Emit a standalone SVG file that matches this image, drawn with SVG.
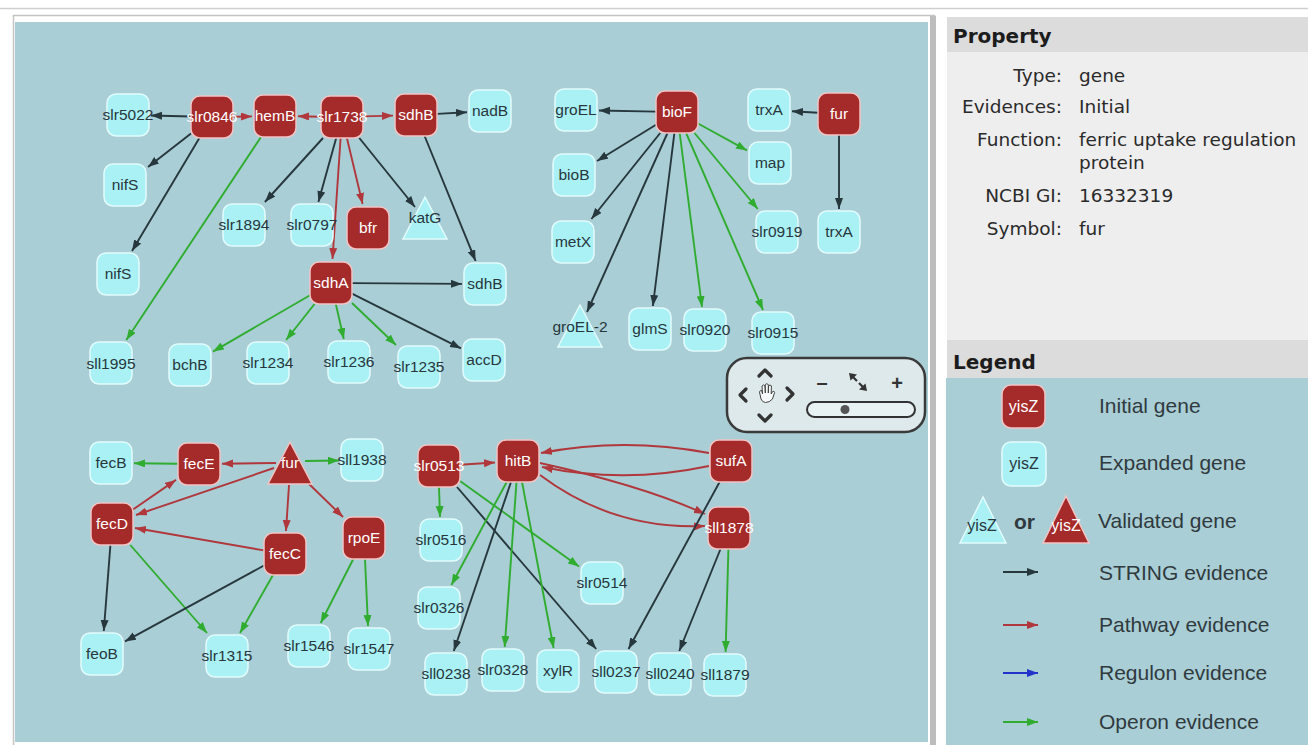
<svg xmlns="http://www.w3.org/2000/svg" width="1308" height="745" viewBox="0 0 1308 745">
<style>
.lbl{font-family:"Liberation Sans",Arial,sans-serif;font-size:15.5px;text-anchor:middle}
.init rect,.init polygon{fill:#a52a2a;stroke:#f2c4c4;stroke-width:1.5}
.exp rect,.exp polygon{fill:#aaf1f5;stroke:#e2fcfd;stroke-width:1.5}
.init text{fill:#ffffff}
.exp text{fill:#27373d}
.e{fill:none;stroke-width:1.9}
.s{stroke:#27373e}
.p{stroke:#b0383c}
.o{stroke:#30ad30}
.r{stroke:#2233cc}
.prop{font-family:"DejaVu Sans",Verdana,sans-serif;font-size:18.5px;fill:#2a2a2a}
.hdr{font-family:"DejaVu Sans",Verdana,sans-serif;font-size:20px;font-weight:bold;fill:#1c1c1c}
.leg{font-family:"Liberation Sans",Arial,sans-serif;font-size:21px;fill:#303a3e}
.nav{fill:none;stroke:#333;stroke-width:3.2;stroke-linecap:round;stroke-linejoin:round}
</style>
<defs>
<marker id="aS" markerUnits="userSpaceOnUse" markerWidth="12" markerHeight="9" refX="11" refY="4" orient="auto"><path d="M0,0 L11,4 L0,8 z" fill="#27373e"/></marker>
<marker id="aP" markerUnits="userSpaceOnUse" markerWidth="12" markerHeight="9" refX="11" refY="4" orient="auto"><path d="M0,0 L11,4 L0,8 z" fill="#b0383c"/></marker>
<marker id="aO" markerUnits="userSpaceOnUse" markerWidth="12" markerHeight="9" refX="11" refY="4" orient="auto"><path d="M0,0 L11,4 L0,8 z" fill="#30ad30"/></marker>
<marker id="aR" markerUnits="userSpaceOnUse" markerWidth="12" markerHeight="9" refX="11" refY="4" orient="auto"><path d="M0,0 L11,4 L0,8 z" fill="#2233cc"/></marker>
</defs>

<rect x="0" y="0" width="1308" height="745" fill="#ffffff"/>
<line x1="0" y1="8.5" x2="1308" y2="8.5" stroke="#cfcfcf" stroke-width="1.5"/>
<!-- main panel frame -->
<rect x="13.5" y="15.5" width="921" height="740" fill="#ffffff" stroke="#c4c4c4" stroke-width="1.5"/>
<rect x="15" y="22" width="913" height="720" fill="#a9ced5"/>
<rect x="930" y="16" width="6" height="729" fill="#bdbdbd"/>

<!-- property panel -->
<rect x="947" y="17" width="361" height="35" fill="#dcdcdc"/>
<rect x="947" y="52" width="361" height="288" fill="#eeeeee"/>
<text class="hdr" x="953" y="43">Property</text>
<text class="prop" x="1062" y="82" text-anchor="end">Type:</text>
<text class="prop" x="1079" y="82">gene</text>
<text class="prop" x="1062" y="113" text-anchor="end">Evidences:</text>
<text class="prop" x="1079" y="113">Initial</text>
<text class="prop" x="1062" y="146" text-anchor="end">Function:</text>
<text class="prop" x="1079" y="146">ferric uptake regulation</text>
<text class="prop" x="1079" y="169">protein</text>
<text class="prop" x="1062" y="202" text-anchor="end">NCBI GI:</text>
<text class="prop" x="1079" y="202">16332319</text>
<text class="prop" x="1062" y="235" text-anchor="end">Symbol:</text>
<text class="prop" x="1079" y="235">fur</text>

<!-- legend -->
<rect x="947" y="340" width="361" height="38" fill="#dcdcdc"/>
<text class="hdr" x="953" y="369">Legend</text>
<rect x="946" y="378" width="362" height="367" fill="#a9ced5"/>
<g id="legend-initial" class="init"><rect x="1002" y="385" width="43" height="43" rx="9"/><text class="lbl" x="1023.5" y="412" style="font-size:16px">yisZ</text></g>
<text class="leg" x="1099" y="413">Initial gene</text>
<g id="legend-expanded" class="exp"><rect x="1002" y="442" width="44" height="44" rx="9"/><text class="lbl" x="1024" y="469" style="font-size:16px">yisZ</text></g>
<text class="leg" x="1099" y="470">Expanded gene</text>
<g id="legend-validated-exp" class="exp"><polygon points="983,497 960,543 1006,543"/><text class="lbl" x="982" y="531" style="font-size:16px">yisZ</text></g>
<text class="leg" x="1014" y="529" style="font-weight:bold">or</text>
<g id="legend-validated-init" class="init"><polygon points="1066,496 1043,543 1089,543"/><text class="lbl" x="1066" y="531" style="font-size:16px">yisZ</text></g>
<text class="leg" x="1098" y="528">Validated gene</text>
<line class="e s" x1="1003" y1="572" x2="1038" y2="572" marker-end="url(#aS)"/>
<text class="leg" x="1099" y="580">STRING evidence</text>
<line class="e p" x1="1003" y1="625" x2="1038" y2="625" marker-end="url(#aP)"/>
<text class="leg" x="1099" y="632">Pathway evidence</text>
<line class="e r" x1="1003" y1="673" x2="1038" y2="673" marker-end="url(#aR)"/>
<text class="leg" x="1099" y="680">Regulon evidence</text>
<line class="e o" x1="1003" y1="722" x2="1038" y2="722" marker-end="url(#aO)"/>
<text class="leg" x="1099" y="729">Operon evidence</text>

<!-- connectors -->
<g id="connectors">
<line class="e s" x1="191" y1="116.5" x2="151" y2="115.5" marker-end="url(#aS)"/>
<line class="e p" x1="233" y1="116.7" x2="252" y2="116.4" marker-end="url(#aP)"/>
<line class="e p" x1="321" y1="116.7" x2="298" y2="116.3" marker-end="url(#aP)"/>
<line class="e p" x1="363" y1="116.4" x2="393" y2="115.6" marker-end="url(#aP)"/>
<line class="e s" x1="437" y1="113.9" x2="467" y2="112.2" marker-end="url(#aS)"/>
<line class="e s" x1="191" y1="133.4" x2="148" y2="167" marker-end="url(#aS)"/>
<line class="e s" x1="199.4" y1="138" x2="132" y2="251" marker-end="url(#aS)"/>
<line class="e o" x1="261" y1="137" x2="126.3" y2="340" marker-end="url(#aO)"/>
<line class="e s" x1="323" y1="138" x2="264.9" y2="202" marker-end="url(#aS)"/>
<line class="e s" x1="336.2" y1="138" x2="318.4" y2="202" marker-end="url(#aS)"/>
<line class="e p" x1="340.6" y1="138" x2="332.5" y2="259" marker-end="url(#aP)"/>
<line class="e p" x1="346.9" y1="138" x2="362.6" y2="204" marker-end="url(#aP)"/>
<line class="e s" x1="359.3" y1="138" x2="415" y2="207" marker-end="url(#aS)"/>
<line class="e s" x1="424.6" y1="136" x2="475.6" y2="261" marker-end="url(#aS)"/>
<line class="e s" x1="352" y1="283.1" x2="462" y2="283.9" marker-end="url(#aS)"/>
<line class="e o" x1="310" y1="295.2" x2="213" y2="351.6" marker-end="url(#aO)"/>
<line class="e o" x1="314.5" y1="304" x2="286.1" y2="340" marker-end="url(#aO)"/>
<line class="e o" x1="335.8" y1="304" x2="343.8" y2="339" marker-end="url(#aO)"/>
<line class="e o" x1="352" y1="303" x2="396" y2="345" marker-end="url(#aO)"/>
<line class="e s" x1="352" y1="293.6" x2="461" y2="348.4" marker-end="url(#aS)"/>

<line class="e s" x1="656" y1="111.6" x2="599" y2="110.5" marker-end="url(#aS)"/>
<line class="e s" x1="656" y1="124.8" x2="597" y2="161" marker-end="url(#aS)"/>
<line class="e s" x1="660.2" y1="133" x2="591.4" y2="219" marker-end="url(#aS)"/>
<line class="e s" x1="667.5" y1="133" x2="587" y2="312" marker-end="url(#aS)"/>
<line class="e s" x1="674.4" y1="133" x2="652.9" y2="306" marker-end="url(#aS)"/>
<line class="e o" x1="679.7" y1="133" x2="702" y2="307" marker-end="url(#aO)"/>
<line class="e o" x1="686.1" y1="133" x2="763" y2="310" marker-end="url(#aO)"/>
<line class="e o" x1="694.5" y1="133" x2="757.8" y2="209" marker-end="url(#aO)"/>
<line class="e o" x1="698" y1="123.5" x2="747" y2="150.4" marker-end="url(#aO)"/>
<line class="e s" x1="818" y1="112.8" x2="792" y2="111.3" marker-end="url(#aS)"/>
<line class="e s" x1="839" y1="135" x2="839" y2="209" marker-end="url(#aS)"/>

<line class="e o" x1="178" y1="463.8" x2="134" y2="463.3" marker-end="url(#aO)"/>
<line class="e p" x1="276" y1="463" x2="222" y2="463.7" marker-end="url(#aP)"/>
<line class="e o" x1="305" y1="461" x2="339" y2="460.5" marker-end="url(#aO)"/>
<line class="e p" x1="133" y1="509.5" x2="176" y2="479.9" marker-end="url(#aP)"/>
<line class="e p" x1="274" y1="468" x2="136" y2="515" marker-end="url(#aP)"/>
<line class="e p" x1="289" y1="485" x2="286" y2="531" marker-end="url(#aP)"/>
<line class="e p" x1="307" y1="482" x2="343" y2="517" marker-end="url(#aP)"/>
<line class="e p" x1="264" y1="550.4" x2="135" y2="528" marker-end="url(#aP)"/>
<line class="e s" x1="110.4" y1="545" x2="103.8" y2="631" marker-end="url(#aS)"/>
<line class="e o" x1="130.3" y1="545" x2="207" y2="633" marker-end="url(#aO)"/>
<line class="e s" x1="264" y1="565.5" x2="125" y2="641.4" marker-end="url(#aS)"/>
<line class="e o" x1="273" y1="575" x2="240" y2="633" marker-end="url(#aO)"/>
<line class="e o" x1="353.3" y1="559" x2="320.7" y2="623" marker-end="url(#aO)"/>
<line class="e o" x1="365" y1="559" x2="368" y2="626" marker-end="url(#aO)"/>

<line class="e p" x1="460" y1="464.7" x2="495" y2="462.5" marker-end="url(#aP)"/>
<path class="e p" d="M709,453 Q624,437 541,453" marker-end="url(#aP)"/>
<path class="e p" d="M709,466 Q625,484 542,467" marker-end="url(#aP)"/>
<path class="e p" d="M540,463 Q644,486 705,514" marker-end="url(#aP)"/>
<path class="e p" d="M540,475 Q613,530 705,526" marker-end="url(#aP)"/>
<line class="e o" x1="439" y1="487" x2="440" y2="517" marker-end="url(#aO)"/>
<line class="e o" x1="460" y1="481" x2="579" y2="566.5" marker-end="url(#aO)"/>
<line class="e s" x1="457" y1="487" x2="596.2" y2="649" marker-end="url(#aS)"/>
<line class="e o" x1="506.7" y1="482" x2="451.4" y2="585" marker-end="url(#aO)"/>
<line class="e s" x1="511" y1="482" x2="453.8" y2="651" marker-end="url(#aS)"/>
<line class="e o" x1="516.5" y1="482" x2="504.7" y2="647" marker-end="url(#aO)"/>
<line class="e o" x1="522" y1="482" x2="553.6" y2="648" marker-end="url(#aO)"/>
<line class="e s" x1="719.6" y1="482" x2="628.5" y2="649" marker-end="url(#aS)"/>
<line class="e s" x1="720.5" y1="549" x2="679.3" y2="651" marker-end="url(#aS)"/>
<line class="e o" x1="728.4" y1="549" x2="725.6" y2="652" marker-end="url(#aO)"/>
</g>

<!-- nodes -->
<g id="n-slr5022" class="exp"><rect x="107" y="94" width="42" height="42" rx="9"/><text class="lbl" x="128" y="120">slr5022</text></g>
<g id="n-slr0846" class="init"><rect x="191" y="96" width="42" height="42" rx="9"/><text class="lbl" x="212" y="122">slr0846</text></g>
<g id="n-hemB" class="init"><rect x="254" y="95" width="42" height="42" rx="9"/><text class="lbl" x="275" y="121">hemB</text></g>
<g id="n-slr1738" class="init"><rect x="321" y="96" width="42" height="42" rx="9"/><text class="lbl" x="342" y="122">slr1738</text></g>
<g id="n-sdhB" class="init"><rect x="395" y="94" width="42" height="42" rx="9"/><text class="lbl" x="416" y="120">sdhB</text></g>
<g id="n-nadB" class="exp"><rect x="469" y="90" width="42" height="42" rx="9"/><text class="lbl" x="490" y="116">nadB</text></g>
<g id="n-nifS-1" class="exp"><rect x="104" y="164" width="42" height="42" rx="9"/><text class="lbl" x="125" y="190">nifS</text></g>
<g id="n-nifS-2" class="exp"><rect x="97" y="253" width="42" height="42" rx="9"/><text class="lbl" x="118" y="279">nifS</text></g>
<g id="n-slr1894" class="exp"><rect x="223" y="204" width="42" height="42" rx="9"/><text class="lbl" x="244" y="230">slr1894</text></g>
<g id="n-slr0797" class="exp"><rect x="291" y="204" width="42" height="42" rx="9"/><text class="lbl" x="312" y="230">slr0797</text></g>
<g id="n-bfr" class="init"><rect x="347" y="207" width="42" height="42" rx="9"/><text class="lbl" x="368" y="233">bfr</text></g>
<g id="n-katG" class="exp"><polygon points="425,197 403,239 447,239"/><text class="lbl" x="425" y="223">katG</text></g>
<g id="n-sdhB-2" class="exp"><rect x="464" y="263" width="42" height="42" rx="9"/><text class="lbl" x="485" y="289">sdhB</text></g>
<g id="n-sdhA" class="init"><rect x="310" y="262" width="42" height="42" rx="9"/><text class="lbl" x="331" y="288">sdhA</text></g>
<g id="n-sll1995" class="exp"><rect x="90" y="342" width="42" height="42" rx="9"/><text class="lbl" x="111" y="369">sll1995</text></g>
<g id="n-bchB" class="exp"><rect x="169" y="344" width="42" height="42" rx="9"/><text class="lbl" x="190" y="370">bchB</text></g>
<g id="n-slr1234" class="exp"><rect x="247" y="342" width="42" height="42" rx="9"/><text class="lbl" x="268" y="368">slr1234</text></g>
<g id="n-slr1236" class="exp"><rect x="328" y="341" width="42" height="42" rx="9"/><text class="lbl" x="349" y="367">slr1236</text></g>
<g id="n-slr1235" class="exp"><rect x="398" y="346" width="42" height="42" rx="9"/><text class="lbl" x="419" y="372">slr1235</text></g>
<g id="n-accD" class="exp"><rect x="463" y="339" width="42" height="42" rx="9"/><text class="lbl" x="484" y="365">accD</text></g>

<g id="n-groEL" class="exp"><rect x="555" y="89" width="42" height="42" rx="9"/><text class="lbl" x="576" y="115">groEL</text></g>
<g id="n-bioF" class="init"><rect x="656" y="91" width="42" height="42" rx="9"/><text class="lbl" x="677" y="117">bioF</text></g>
<g id="n-trxA-1" class="exp"><rect x="748" y="89" width="42" height="42" rx="9"/><text class="lbl" x="769" y="115">trxA</text></g>
<g id="n-fur-1" class="init"><rect x="818" y="93" width="42" height="42" rx="9"/><text class="lbl" x="839" y="119">fur</text></g>
<g id="n-map" class="exp"><rect x="749" y="142" width="42" height="42" rx="9"/><text class="lbl" x="770" y="168">map</text></g>
<g id="n-bioB" class="exp"><rect x="553" y="154" width="42" height="42" rx="9"/><text class="lbl" x="574" y="180">bioB</text></g>
<g id="n-metX" class="exp"><rect x="552" y="221" width="42" height="42" rx="9"/><text class="lbl" x="573" y="247">metX</text></g>
<g id="n-slr0919" class="exp"><rect x="756" y="211" width="42" height="42" rx="9"/><text class="lbl" x="777" y="237">slr0919</text></g>
<g id="n-trxA-2" class="exp"><rect x="818" y="211" width="42" height="42" rx="9"/><text class="lbl" x="839" y="237">trxA</text></g>
<g id="n-groEL-2" class="exp"><polygon points="580,305 558,347 602,347"/><text class="lbl" x="580" y="332">groEL-2</text></g>
<g id="n-glmS" class="exp"><rect x="629" y="308" width="42" height="42" rx="9"/><text class="lbl" x="650" y="334">glmS</text></g>
<g id="n-slr0920" class="exp"><rect x="684" y="309" width="42" height="42" rx="9"/><text class="lbl" x="705" y="335">slr0920</text></g>
<g id="n-slr0915" class="exp"><rect x="752" y="312" width="42" height="42" rx="9"/><text class="lbl" x="773" y="338">slr0915</text></g>

<g id="n-fecB" class="exp"><rect x="90" y="442" width="42" height="42" rx="9"/><text class="lbl" x="111" y="468">fecB</text></g>
<g id="n-fecE" class="init"><rect x="178" y="443" width="42" height="42" rx="9"/><text class="lbl" x="199" y="469">fecE</text></g>
<g id="n-fur-2" class="init"><polygon points="290,442 268,484 312,484"/><text class="lbl" x="290" y="468">fur</text></g>
<g id="n-sll1938" class="exp"><rect x="341" y="439" width="42" height="42" rx="9"/><text class="lbl" x="362" y="465">sll1938</text></g>
<g id="n-fecD" class="init"><rect x="91" y="503" width="42" height="42" rx="9"/><text class="lbl" x="112" y="529">fecD</text></g>
<g id="n-fecC" class="init"><rect x="264" y="533" width="42" height="42" rx="9"/><text class="lbl" x="285" y="559">fecC</text></g>
<g id="n-rpoE" class="init"><rect x="343" y="517" width="42" height="42" rx="9"/><text class="lbl" x="364" y="543">rpoE</text></g>
<g id="n-feoB" class="exp"><rect x="81" y="633" width="42" height="42" rx="9"/><text class="lbl" x="102" y="659">feoB</text></g>
<g id="n-slr1315" class="exp"><rect x="206" y="635" width="42" height="42" rx="9"/><text class="lbl" x="227" y="661">slr1315</text></g>
<g id="n-slr1546" class="exp"><rect x="288" y="625" width="42" height="42" rx="9"/><text class="lbl" x="309" y="651">slr1546</text></g>
<g id="n-slr1547" class="exp"><rect x="348" y="628" width="42" height="42" rx="9"/><text class="lbl" x="369" y="654">slr1547</text></g>

<g id="n-slr0513" class="init"><rect x="418" y="445" width="42" height="42" rx="9"/><text class="lbl" x="439" y="471">slr0513</text></g>
<g id="n-hitB" class="init"><rect x="497" y="440" width="42" height="42" rx="9"/><text class="lbl" x="518" y="466">hitB</text></g>
<g id="n-sufA" class="init"><rect x="710" y="440" width="42" height="42" rx="9"/><text class="lbl" x="731" y="466">sufA</text></g>
<g id="n-sll1878" class="init"><rect x="708" y="507" width="42" height="42" rx="9"/><text class="lbl" x="729" y="533">sll1878</text></g>
<g id="n-slr0516" class="exp"><rect x="420" y="519" width="42" height="42" rx="9"/><text class="lbl" x="441" y="545">slr0516</text></g>
<g id="n-slr0514" class="exp"><rect x="581" y="562" width="42" height="42" rx="9"/><text class="lbl" x="602" y="588">slr0514</text></g>
<g id="n-slr0326" class="exp"><rect x="418" y="587" width="42" height="42" rx="9"/><text class="lbl" x="439" y="613">slr0326</text></g>
<g id="n-sll0238" class="exp"><rect x="425" y="653" width="42" height="42" rx="9"/><text class="lbl" x="446" y="679">sll0238</text></g>
<g id="n-slr0328" class="exp"><rect x="482" y="649" width="42" height="42" rx="9"/><text class="lbl" x="503" y="675">slr0328</text></g>
<g id="n-xylR" class="exp"><rect x="537" y="650" width="42" height="42" rx="9"/><text class="lbl" x="558" y="676">xylR</text></g>
<g id="n-sll0237" class="exp"><rect x="595" y="651" width="42" height="42" rx="9"/><text class="lbl" x="616" y="677">sll0237</text></g>
<g id="n-sll0240" class="exp"><rect x="649" y="653" width="42" height="42" rx="9"/><text class="lbl" x="670" y="679">sll0240</text></g>
<g id="n-sll1879" class="exp"><rect x="704" y="654" width="42" height="42" rx="9"/><text class="lbl" x="725" y="680">sll1879</text></g>

<!-- navigation control -->
<g id="nav-control">
<rect x="727" y="358" width="198" height="74" rx="20" fill="#dde9eb" stroke="#3a3a3a" stroke-width="2.5"/>
<path class="nav" d="M759,376 L765,370 L771,376"/>
<path class="nav" d="M759,415 L765,421 L771,415"/>
<path class="nav" d="M746,389 L740,395 L746,401"/>
<path class="nav" d="M787,388 L793,394 L787,400"/>
<path d="M761,399 L759.5,392 Q760,390 761.8,390.5 L762.5,394 L762,386 Q763.5,384 765,386 L765.3,393 L765.3,384.5 Q766.8,383 768.3,384.5 L768.3,393 L768.6,385.8 Q770,384.4 771.4,385.8 L771.2,394 L772.6,391.5 Q774.2,390.6 774.6,392.4 L772.5,399 Q769.5,402.5 765.5,402.5 Q762.3,402.3 761,399 Z" fill="#f7fafa" stroke="#444" stroke-width="1"/>
<text x="822" y="389" text-anchor="middle" style="font-family:'Liberation Sans',Arial,sans-serif;font-size:20px;font-weight:bold;fill:#333">–</text>
<text x="897" y="390" text-anchor="middle" style="font-family:'Liberation Sans',Arial,sans-serif;font-size:20px;font-weight:bold;fill:#333">+</text>
<line x1="857" y1="381" x2="852" y2="376" stroke="#333" stroke-width="2.2"/>
<polygon points="849,373 857,374.5 850.5,380.5" fill="#333"/>
<line x1="859" y1="383" x2="864" y2="388" stroke="#333" stroke-width="2.2"/>
<polygon points="867,391 859,389.5 865.5,383.5" fill="#333"/>
<rect x="807" y="402" width="108" height="15" rx="7.5" fill="#e8f2f3" stroke="#333" stroke-width="2"/>
<circle cx="845" cy="409.5" r="4.5" fill="#555"/>
</g>
</svg>
